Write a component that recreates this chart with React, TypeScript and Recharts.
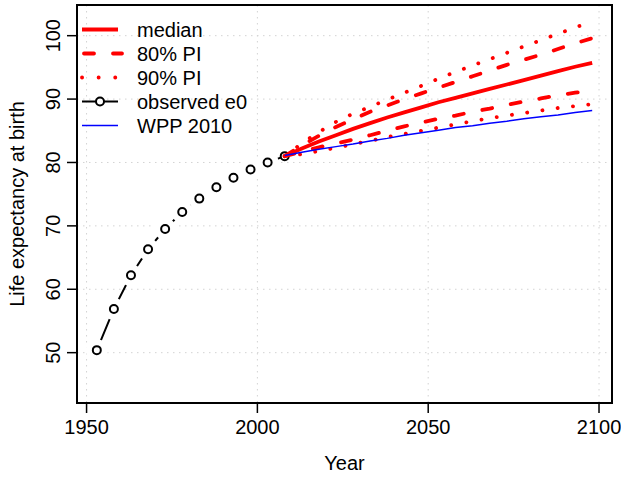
import { CartesianGrid, Line, LineChart, ReferenceArea, XAxis, YAxis } from 'recharts'

const FONT = '"Liberation Sans", Arial, Helvetica, sans-serif'

// observed life expectancy (5-year periods)
const observedYears = [1953, 1958, 1963, 1968, 1973, 1978, 1983, 1988, 1993, 1998, 2003, 2008]
const observed = [50.4, 56.9, 62.2, 66.3, 69.5, 72.2, 74.3, 76.1, 77.6, 78.9, 80.0, 81.0]

// projections
const projYears = [2008, 2013, 2018, 2023, 2028, 2033, 2038, 2043, 2048, 2053, 2058, 2063, 2068, 2073, 2078, 2083, 2088, 2093, 2098]
const median = [81.0, 82.2, 83.3, 84.3, 85.3, 86.2, 87.1, 87.9, 88.7, 89.5, 90.2, 90.9, 91.6, 92.3, 93.0, 93.7, 94.4, 95.1, 95.7]
const upper80 = [81.0, 82.7, 84.2, 85.6, 86.8, 88.0, 89.0, 90.0, 90.9, 91.8, 92.7, 93.6, 94.5, 95.4, 96.2, 97.0, 97.9, 98.8, 99.6]
const lower80 = [81.0, 81.7, 82.4, 83.0, 83.6, 84.3, 85.0, 85.7, 86.3, 86.9, 87.4, 88.0, 88.5, 89.1, 89.6, 90.1, 90.6, 91.0, 91.4]
const upper90 = [81.0, 83.0, 84.8, 86.4, 87.7, 88.8, 89.9, 91.0, 92.1, 93.2, 94.3, 95.3, 96.3, 97.3, 98.3, 99.3, 100.3, 101.3, 102.2]
const lower90 = [81.0, 81.3, 81.8, 82.3, 82.9, 83.4, 84.0, 84.5, 85.0, 85.5, 86.0, 86.5, 87.0, 87.4, 87.8, 88.2, 88.6, 88.9, 89.2]
const wpp2010 = [81.1, 81.6, 82.1, 82.5, 82.9, 83.4, 83.8, 84.3, 84.7, 85.1, 85.5, 85.8, 86.2, 86.5, 86.9, 87.2, 87.5, 87.9, 88.2]

const xTicks = [1950, 2000, 2050, 2100]
const yTicks = [50, 60, 70, 80, 90, 100]
const xDomain: [number, number] = [1947.2, 2103.8]
const yDomain: [number, number] = [42.06, 104.84]

const legendLabels = ['median', '80% PI', '90% PI', 'observed e0', 'WPP 2010']

const allYears = Array.from(new Set([...observedYears, ...projYears])).sort((a, b) => a - b)
const rows = allYears.map((year) => {
  const oi = observedYears.indexOf(year)
  const pi = projYears.indexOf(year)
  return {
    year,
    observed: oi >= 0 ? observed[oi] : undefined,
    median: pi >= 0 ? median[pi] : undefined,
    upper80: pi >= 0 ? upper80[pi] : undefined,
    lower80: pi >= 0 ? lower80[pi] : undefined,
    upper90: pi >= 0 ? upper90[pi] : undefined,
    lower90: pi >= 0 ? lower90[pi] : undefined,
    wpp: pi >= 0 ? wpp2010[pi] : undefined,
  }
})

const RED = '#ff0000'
const DASH = '10 19'
const DOT = '0.1 15.3'
const FS = 20

function ObsDot(props: any) {
  const { cx, cy, index } = props
  if (cx == null || cy == null) return <g key={index} />
  const last = index === observedYears.length - 1
  return (
    <g key={index}>
      {!last && <circle cx={cx} cy={cy} r={11} fill="#fff" />}
      <circle cx={cx} cy={cy} r={4} fill="#fff" stroke="#000" strokeWidth={2} />
    </g>
  )
}

function XTick({ x, y, payload }: any) {
  return (
    <text x={x} y={y + 19} textAnchor="middle" fontSize={FS} fontFamily={FONT} fill="#000">
      {payload.value}
    </text>
  )
}

function YTick({ x, y, payload }: any) {
  const bx = x - 5
  return (
    <text x={bx} y={y} transform={`rotate(-90, ${bx}, ${y})`} textAnchor="middle" fontSize={FS} fontFamily={FONT} fill="#000">
      {payload.value}
    </text>
  )
}

function LegendBox() {
  return (
    <svg width={300} height={140} style={{ position: 'absolute', left: 0, top: 0, pointerEvents: 'none' }}>
      {legendLabels.map((label, i) => {
        const y = 29.5 + i * 24
        let sym = null
        if (i === 0) sym = <line x1={82} x2={118} y1={y} y2={y} stroke={RED} strokeWidth={3.8} />
        if (i === 1) sym = <line x1={84} x2={122} y1={y} y2={y} stroke={RED} strokeWidth={3.8} strokeDasharray={DASH} strokeLinecap="round" />
        if (i === 2) sym = <line x1={82} x2={122} y1={y} y2={y} stroke={RED} strokeWidth={3.8} strokeDasharray="0.1 16.5" strokeLinecap="round" />
        if (i === 3)
          sym = (
            <g>
              <line x1={82} x2={118} y1={y} y2={y} stroke="#000" strokeWidth={2} />
              <circle cx={100} cy={y} r={4} fill="#fff" stroke="#000" strokeWidth={2} />
            </g>
          )
        if (i === 4) sym = <line x1={82} x2={118} y1={y} y2={y} stroke="#0000ff" strokeWidth={1.5} />
        return (
          <g key={label}>
            {sym}
            <text x={137} y={y + 7} fontSize={FS} fontFamily={FONT} fill="#000">
              {label}
            </text>
          </g>
        )
      })}
    </svg>
  )
}

export default function App() {
  return (
    <div style={{ position: 'absolute', left: 0, top: 0, width: 621, height: 478, background: '#fff' }}>
      <LineChart width={621} height={478} data={rows} margin={{ top: 5, right: 9, bottom: 0, left: 0 }}>
        <CartesianGrid stroke="#d3d3d3" strokeDasharray="1.5 4.5" />
        <XAxis
          dataKey="year"
          type="number"
          domain={xDomain}
          ticks={xTicks}
          allowDataOverflow
          height={75}
          axisLine={false}
          tickSize={10}
          tickMargin={2}
          tickLine={{ stroke: '#000', strokeWidth: 1.5 }}
          tick={<XTick />}
          label={{
            content: ({ viewBox }: any) => (
              <text x={viewBox.x + viewBox.width / 2} y={viewBox.y + 67} textAnchor="middle" fontSize={FS} fontFamily={FONT} fill="#000">
                Year
              </text>
            ),
          }}
        />
        <YAxis
          type="number"
          domain={yDomain}
          ticks={yTicks}
          allowDataOverflow
          width={77}
          axisLine={false}
          tickSize={10}
          tickMargin={2}
          tickLine={{ stroke: '#000', strokeWidth: 1.5 }}
          tick={<YTick />}
          label={{
            content: ({ viewBox }: any) => {
              const cx = 24
              const cy = viewBox.y + viewBox.height / 2
              return (
                <text x={cx} y={cy} transform={`rotate(-90, ${cx}, ${cy})`} textAnchor="middle" fontSize={FS} fontFamily={FONT} fill="#000">
                  Life expectancy at birth
                </text>
              )
            },
          }}
        />
        <ReferenceArea x1={xDomain[0]} x2={xDomain[1]} y1={yDomain[0]} y2={yDomain[1]} fill="none" stroke="#000" strokeWidth={2} ifOverflow="visible" />
        <Line dataKey="observed" stroke="#000" strokeWidth={2} dot={<ObsDot />} activeDot={false} isAnimationActive={false} />
        <Line dataKey="median" zIndex={700} stroke={RED} strokeWidth={3.8} dot={false} activeDot={false} isAnimationActive={false} />
        <Line dataKey="upper80" zIndex={700} stroke={RED} strokeWidth={3.8} strokeDasharray={DASH} strokeLinecap="round" dot={false} activeDot={false} isAnimationActive={false} />
        <Line dataKey="lower80" zIndex={700} stroke={RED} strokeWidth={3.8} strokeDasharray={DASH} strokeLinecap="round" dot={false} activeDot={false} isAnimationActive={false} />
        <Line dataKey="upper90" zIndex={700} stroke={RED} strokeWidth={3.8} strokeDasharray={DOT} strokeLinecap="round" dot={false} activeDot={false} isAnimationActive={false} />
        <Line dataKey="lower90" zIndex={700} stroke={RED} strokeWidth={3.8} strokeDasharray={DOT} strokeLinecap="round" dot={false} activeDot={false} isAnimationActive={false} />
        <Line dataKey="wpp" zIndex={700} stroke="#0000ff" strokeWidth={1.5} dot={false} activeDot={false} isAnimationActive={false} />
      </LineChart>
      <LegendBox />
    </div>
  )
}
